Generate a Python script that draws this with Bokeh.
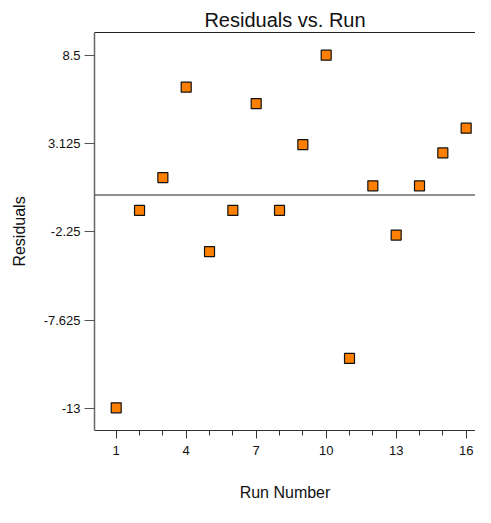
from bokeh.plotting import figure
from bokeh.models import FixedTicker, LinearAxis, Span, Range1d
from bokeh.embed import file_html
from bokeh.resources import INLINE

runs = list(range(1, 17))
residuals = [-12.94, -0.94, 1.06, 6.56, -3.44, -0.94, 5.56, -0.94,
             3.06, 8.5, -9.94, 0.56, -2.44, 0.56, 2.56, 4.06]
y_ticks = [-13, -7.625, -2.25, 3.125, 8.5]
y_tick_labels = ["-13", "-7.625", "-2.25", "3.125", "8.5"]
x_ticks = [1, 4, 7, 10, 13, 16]

FONT = "Liberation Sans"

p = figure(width=475, height=507, output_backend="svg", toolbar_location=None,
           title="Residuals vs. Run",
           x_range=Range1d(0.07, 16.4), y_range=Range1d(-14.32, 9.88),
           min_border_left=94, min_border_right=0, min_border_top=32,
           min_border_bottom=77)
p.title.align = "center"
p.title.text_font = FONT
p.title.text_font_size = "20px"
p.title.text_font_style = "normal"
p.title.text_color = "#111111"
p.title.standoff = 3

p.xgrid.visible = False
p.ygrid.visible = False
p.outline_line_color = None
p.background_fill_color = "white"
p.border_fill_color = "white"

# axes
xa = p.xaxis[0]
xa.ticker = FixedTicker(ticks=x_ticks, minor_ticks=runs)
xa.axis_label = "Run Number"
ya = p.yaxis[0]
ya.ticker = FixedTicker(ticks=y_ticks)
ya.major_label_overrides = {t: l for t, l in zip(y_ticks, y_tick_labels)}
ya.axis_label = "Residuals"

for ax in (xa, ya):
    ax.axis_label_text_font = FONT
    ax.axis_label_text_font_size = "16px"
    ax.axis_label_text_font_style = "normal"
    ax.axis_label_text_color = "#111111"
    ax.major_label_text_font = FONT
    ax.major_label_text_font_size = "13px"
    ax.major_label_text_color = "#111111"
    ax.major_tick_in = 0
    ax.minor_tick_in = 0

xa.axis_line_color = "#333333"
xa.major_tick_line_color = "#333333"
xa.minor_tick_line_color = "#333333"
xa.major_tick_out = 8
xa.minor_tick_out = 5
xa.major_label_standoff = 7
xa.axis_label_standoff = 26

ya.axis_line_color = "#666666"
ya.axis_line_width = 1.5
ya.major_tick_line_color = "#555555"
ya.major_tick_out = 10
ya.minor_tick_line_color = None
ya.major_label_standoff = 4
ya.axis_label_standoff = 13

top = LinearAxis(ticker=FixedTicker(ticks=[]), major_label_text_font_size="0px",
                 major_tick_out=0, major_label_standoff=0,
                 major_tick_line_color=None, minor_tick_line_color=None,
                 axis_line_color="#222222")
p.add_layout(top, "above")

p.add_layout(Span(location=0, dimension="width", line_color="#222222", line_width=1.2))

p.scatter(runs, residuals, marker="square", size=10,
          fill_color="#FF8000", line_color="#111111", line_width=1.2)

open("out.html", "w").write(file_html(p, INLINE))
